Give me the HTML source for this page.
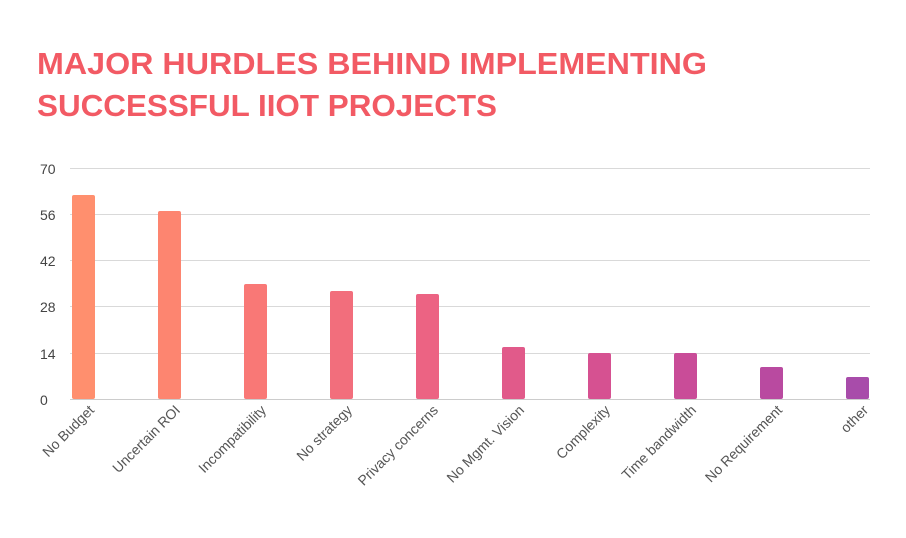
<!DOCTYPE html>
<html><head><meta charset="utf-8"><style>
html,body{margin:0;padding:0;background:#fff;}
svg{display:block;}
</style></head><body>
<svg width="906" height="538" viewBox="0 0 906 538" xmlns="http://www.w3.org/2000/svg" font-family="Liberation Sans, sans-serif">
<rect width="906" height="538" fill="#fff"/>
<text x="37" y="74" font-size="31" font-weight="bold" fill="#F25A64" textLength="670" lengthAdjust="spacingAndGlyphs">MAJOR HURDLES BEHIND IMPLEMENTING</text>
<text x="37" y="116" font-size="31" font-weight="bold" fill="#F25A64" textLength="460" lengthAdjust="spacingAndGlyphs">SUCCESSFUL IIOT PROJECTS</text>
<g stroke="#d9d9d9" stroke-width="1">
<line x1="70" y1="168.5" x2="870" y2="168.5"/>
<line x1="70" y1="214.5" x2="870" y2="214.5"/>
<line x1="70" y1="260.5" x2="870" y2="260.5"/>
<line x1="70" y1="306.5" x2="870" y2="306.5"/>
<line x1="70" y1="353.5" x2="870" y2="353.5"/>
<line x1="70" y1="399.5" x2="870" y2="399.5" stroke="#ccc"/>
</g>
<g font-size="14" fill="#444">
<text x="40" y="174">70</text>
<text x="40" y="220">56</text>
<text x="40" y="266">42</text>
<text x="40" y="312">28</text>
<text x="40" y="359">14</text>
<text x="40" y="405">0</text>
</g>
<g>
<rect x="72" y="195" width="23" height="204" rx="2" fill="#FF8F6E"/>
<rect x="158" y="211" width="23" height="188" rx="2" fill="#FD8570"/>
<rect x="244" y="284" width="23" height="115" rx="2" fill="#F97876"/>
<rect x="330" y="291" width="23" height="108" rx="2" fill="#F26E7C"/>
<rect x="416" y="294" width="23" height="105" rx="2" fill="#EC6383"/>
<rect x="502" y="347" width="23" height="52" rx="2" fill="#E15A8A"/>
<rect x="588" y="353" width="23" height="46" rx="2" fill="#D65191"/>
<rect x="674" y="353" width="23" height="46" rx="2" fill="#C94C98"/>
<rect x="760" y="367" width="23" height="32" rx="2" fill="#B94AA0"/>
<rect x="846" y="377" width="23" height="22" rx="2" fill="#A84CAA"/>
</g>
<g font-size="14" fill="#555" text-anchor="end">
<text transform="translate(95,411) rotate(-45)">No Budget</text>
<text transform="translate(181,411) rotate(-45)">Uncertain ROI</text>
<text transform="translate(267,411) rotate(-45)">Incompatibility</text>
<text transform="translate(353,411) rotate(-45)">No strategy</text>
<text transform="translate(439,411) rotate(-45)">Privacy concerns</text>
<text transform="translate(525,411) rotate(-45)">No Mgmt. Vision</text>
<text transform="translate(611,411) rotate(-45)">Complexity</text>
<text transform="translate(697,411) rotate(-45)">Time bandwidth</text>
<text transform="translate(783,411) rotate(-45)">No Requirement</text>
<text transform="translate(869,411) rotate(-45)">other</text>
</g>
</svg>
</body></html>
